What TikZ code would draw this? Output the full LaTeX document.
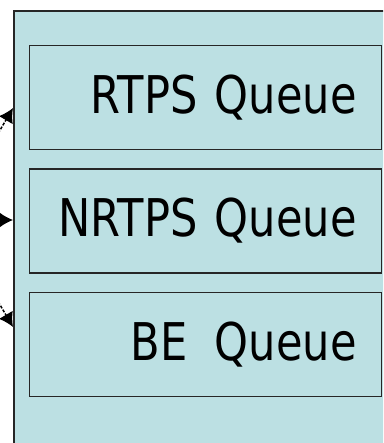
\documentclass[tikz,border=0pt]{standalone}
\usepackage{fontspec}
\newfontfamily\queuefont[FakeStretch=0.83]{DejaVu Sans}
\usetikzlibrary{arrows.meta, positioning, calc}
\definecolor{panel}{HTML}{BCE0E3}
\tikzstyle{frame} = [
    rectangle,
    draw=black!85,
    line width=1.6pt,
    fill=panel,
    anchor=north west,
    minimum width=400pt,
    minimum height=460pt
]
\tikzstyle{queue} = [
    rectangle,
    draw=black!85,
    line width=1.3pt,
    minimum height=104pt,
    text width=302pt,
    inner xsep=25pt,
    align=right,
    font=\queuefont\fontsize{52}{56}\selectfont
]
\tikzstyle{arrow} = [line width=1.5pt, dash pattern=on 3pt off 1.5pt, -{Latex[length=14pt,width=16pt]}]

\begin{document}
\begin{tikzpicture}[x=1pt, y=-1pt]
\useasboundingbox (0,0) rectangle (383,443);
\clip (0,0) rectangle (383,443);

% Panel
\node (sched) [frame] at (13,10) {};

% Queues
\node (rtps) [queue, anchor=north west] at (29,45) {RTPS Queue};
\node (nrtps) [queue, below=18pt of rtps] {NRTPS Queue};
\node (be) [queue, below=18pt of nrtps] {BE \hspace{10pt}Queue};

% Incoming arrows
\coordinate (src1) at (-4,137);
\coordinate (src2) at (-5,220);
\coordinate (src3) at (-4,298);
\draw [arrow] (src1) -- ($(sched.north west)+(0,98)$);
\draw [arrow] (src2) -- (src2 -| sched.west);
\draw [arrow] (src3) -- ($(sched.north west)+(0,317)$);

\end{tikzpicture}
\end{document}
